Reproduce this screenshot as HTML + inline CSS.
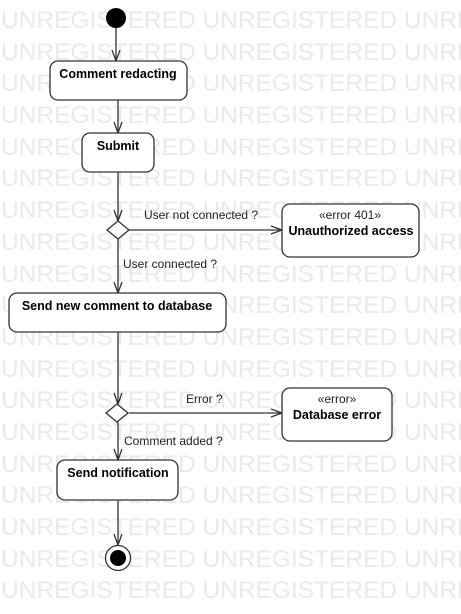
<!DOCTYPE html>
<html><head><style>
html,body{margin:0;padding:0;background:#fff;}
svg{display:block;}
.wm{font-family:"Liberation Sans",sans-serif;font-size:24.5px;fill:#eaeaea;}
.b{font-family:"Liberation Sans",sans-serif;font-size:12.5px;font-weight:bold;fill:#000;}
.n{font-family:"Liberation Sans",sans-serif;font-size:12px;fill:#222;}
</style></head><body>
<svg width="461" height="614" viewBox="0 0 461 614" xmlns="http://www.w3.org/2000/svg">
<g class="wm">
<text x="1" y="28">UNREGISTERED UNREGISTERED UNREGISTERED</text>
<text x="1" y="60">UNREGISTERED UNREGISTERED UNREGISTERED</text>
<text x="1" y="91">UNREGISTERED UNREGISTERED UNREGISTERED</text>
<text x="1" y="123">UNREGISTERED UNREGISTERED UNREGISTERED</text>
<text x="1" y="155">UNREGISTERED UNREGISTERED UNREGISTERED</text>
<text x="1" y="186">UNREGISTERED UNREGISTERED UNREGISTERED</text>
<text x="1" y="218">UNREGISTERED UNREGISTERED UNREGISTERED</text>
<text x="1" y="250">UNREGISTERED UNREGISTERED UNREGISTERED</text>
<text x="1" y="282">UNREGISTERED UNREGISTERED UNREGISTERED</text>
<text x="1" y="313">UNREGISTERED UNREGISTERED UNREGISTERED</text>
<text x="1" y="345">UNREGISTERED UNREGISTERED UNREGISTERED</text>
<text x="1" y="377">UNREGISTERED UNREGISTERED UNREGISTERED</text>
<text x="1" y="408">UNREGISTERED UNREGISTERED UNREGISTERED</text>
<text x="1" y="440">UNREGISTERED UNREGISTERED UNREGISTERED</text>
<text x="1" y="472">UNREGISTERED UNREGISTERED UNREGISTERED</text>
<text x="1" y="503">UNREGISTERED UNREGISTERED UNREGISTERED</text>
<text x="1" y="535">UNREGISTERED UNREGISTERED UNREGISTERED</text>
<text x="1" y="567">UNREGISTERED UNREGISTERED UNREGISTERED</text>
<text x="1" y="598">UNREGISTERED UNREGISTERED UNREGISTERED</text>
</g>
<g stroke="#333" stroke-width="1.3" fill="none">
<line x1="116" y1="28" x2="116" y2="61"/><polyline points="112,50 116,61 120,50"/>
<line x1="118" y1="100" x2="118" y2="133"/><polyline points="114,122 118,133 122,122"/>
<line x1="118" y1="172" x2="118" y2="221"/><polyline points="114,210 118,221 122,210"/>
<line x1="129" y1="230" x2="282" y2="230"/><polyline points="271,226 282,230 271,234"/>
<line x1="118" y1="239" x2="118" y2="293"/><polyline points="114,282 118,293 122,282"/>
<line x1="118" y1="332" x2="118" y2="404"/><polyline points="114,393 118,404 122,393"/>
<line x1="129" y1="413" x2="282" y2="413"/><polyline points="271,409 282,413 271,417"/>
<line x1="118" y1="422" x2="118" y2="460"/><polyline points="114,449 118,460 122,449"/>
<line x1="118" y1="500" x2="118" y2="545"/><polyline points="114,534 118,545 122,534"/>
</g>
<circle cx="116" cy="18" r="10" fill="#000"/>
<g fill="#fff" stroke="#333" stroke-width="1.3">
<rect x="50" y="61" width="137" height="39" rx="8"/>
<rect x="82" y="133" width="72" height="39" rx="8"/>
<polygon points="118,221 129,230 118,239 107,230"/>
<rect x="282" y="204" width="137" height="53" rx="8"/>
<rect x="9" y="293" width="217" height="39" rx="8"/>
<polygon points="117,404 128,413 117,422 106,413"/>
<rect x="282" y="388" width="110" height="53" rx="8"/>
<rect x="57" y="460" width="121" height="40" rx="8"/>
<circle cx="118" cy="558" r="12.5"/>
</g>
<circle cx="118" cy="558" r="8" fill="#000"/>
<text class="b" x="118" y="78" text-anchor="middle">Comment redacting</text>
<text class="b" x="118" y="150" text-anchor="middle">Submit</text>
<text class="n" x="350" y="219" text-anchor="middle">«error 401»</text>
<text class="b" x="351" y="235" text-anchor="middle">Unauthorized access</text>
<text class="b" x="117" y="310" text-anchor="middle">Send new comment to database</text>
<text class="n" x="337" y="403" text-anchor="middle">«error»</text>
<text class="b" x="337" y="419" text-anchor="middle">Database error</text>
<text class="b" x="118" y="477" text-anchor="middle">Send notification</text>
<text class="n" x="144" y="219">User not connected ?</text>
<text class="n" x="123" y="268">User connected ?</text>
<text class="n" x="186" y="403">Error ?</text>
<text class="n" x="124" y="445">Comment added ?</text>
</svg>
</body></html>
